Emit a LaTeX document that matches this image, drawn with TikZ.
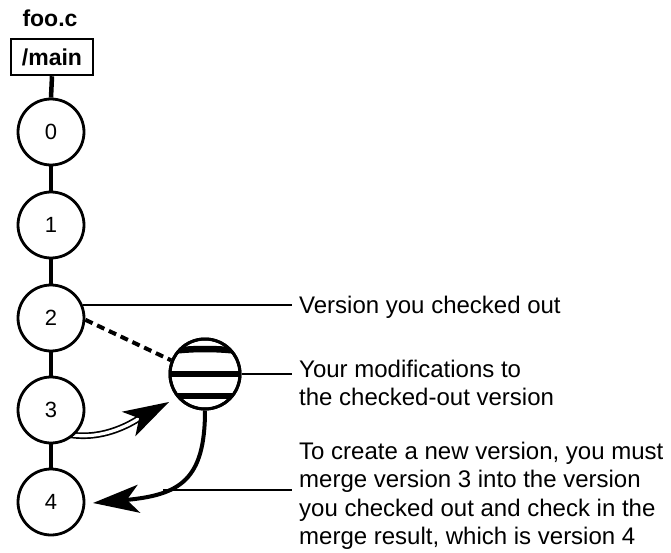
\documentclass[tikz,border=0pt]{standalone}
\usepackage{fontspec}
\setmainfont{Liberation Sans}
\usetikzlibrary{arrows.meta,backgrounds}
\begin{document}
\begin{tikzpicture}[x=1pt,y=1pt,
  ver/.style={circle,draw,fill=white,line width=2.8pt,minimum size=66pt,inner sep=0pt,font=\fontsize{22}{26}\selectfont},
  trunk/.style={line width=4.5pt},
  leader/.style={line width=2pt},
  lbl/.style={anchor=base west,align=left,inner sep=0pt,font=\fontsize{24}{28.5}\selectfont},
  bigtip/.style={-{Stealth[length=46pt,width=28pt,inset=12pt]}},
]
\path[use as bounding box] (0,0) rectangle (671,-553);

\node[font=\bfseries\fontsize{23}{26}\selectfont,inner sep=0pt] (file) at (50,-18) {foo.c};
\node[draw,fill=white,line width=2.5pt,minimum width=82pt,minimum height=36pt,inner sep=0pt,font=\bfseries\fontsize{23}{26}\selectfont] (main) at (52,-57) {/main};

\node[ver] (c0) at (51,-132) {0};
\node[ver] (c1) at (51,-225) {1};
\node[ver] (c2) at (51,-318) {2};
\node[ver] (c3) at (51,-410) {3};
\node[ver] (c4) at (51,-502) {4};

\node[circle,draw,fill=white,line width=3pt,minimum size=70pt,inner sep=0pt] (ball) at (205,-374) {};
\begin{scope}
  \clip (205,-374) circle (34pt);
  \draw[line width=6.5pt] (165,-352) .. controls (190,-348) and (220,-348) .. (245,-352);
  \draw[line width=6.5pt] (165,-374) -- (245,-374);
  \draw[line width=6.5pt] (165,-396) -- (245,-396);
\end{scope}
\draw[line width=3pt] (205,-374) circle (35pt);

\coordinate (lx) at (292,0);
\coordinate (dstart) at (66,-434);
\coordinate (dtip) at (169,-402);
\coordinate (ctip) at (93,-503);

\begin{scope}[on background layer]
  \draw[trunk] (main.south) -- (c0.north);
  \draw[trunk] (c0) -- (c1);
  \draw[trunk] (c1) -- (c2);
  \draw[trunk] (c2) -- (c3);
  \draw[trunk] (c3) -- (c4);
  \draw[line width=4pt,dash pattern=on 8pt off 5pt] (c2.-3) -- (ball.158);
  \draw[line width=1.7pt,double=white,double distance=3.2pt,bigtip] (dstart) .. controls (105,-442) and (136,-420) .. (dtip);
\end{scope}

\draw[line width=4pt,bigtip] (ball.south) .. controls (205,-480) and (180,-495) .. coordinate[pos=0.65] (m) (ctip);

\draw[leader] (c2.22) -- (c2.22 -| lx);
\draw[leader] (ball.east) -- (ball.east -| lx);
\draw[leader] (m) -- (m -| lx);

\node[lbl] (t1) at (299,-313) {Version you checked out};
\node[lbl] (t2) at (299,-405.5) {Your modifications to\\the checked-out version};
\node[lbl] (t3) at (299,-544.5) {To create a new version, you must\\merge version 3 into the version\\you checked out and check in the\\merge result, which is version 4};
\end{tikzpicture}
\end{document}
